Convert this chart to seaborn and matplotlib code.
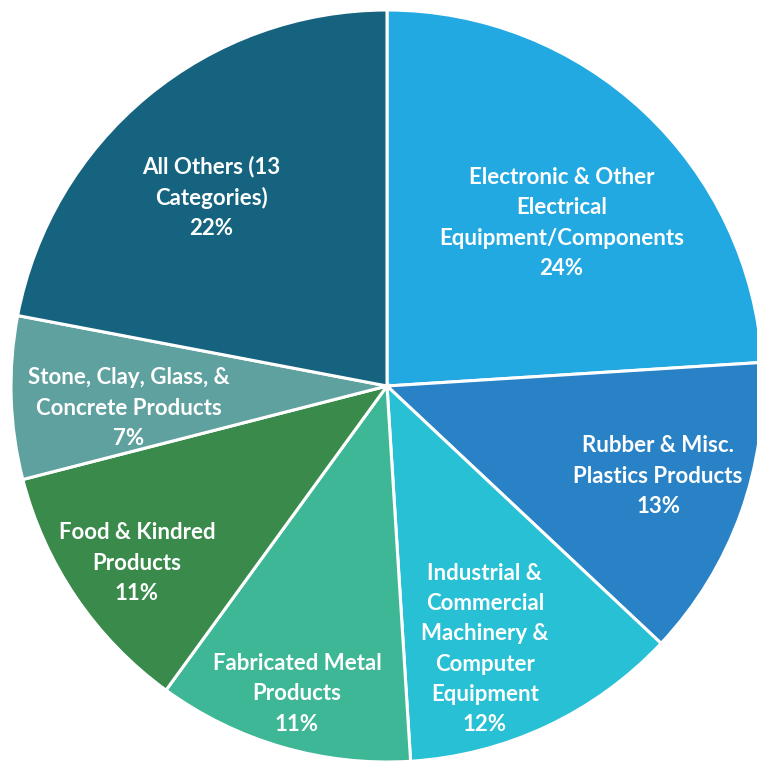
import numpy as np
import matplotlib
matplotlib.use("Agg")
import matplotlib.pyplot as plt
import seaborn as sns

# Share of categories (percent), clockwise from 12 o'clock
categories = [
    "Electronic & Other\nElectrical\nEquipment/Components",
    "Rubber & Misc.\nPlastics Products",
    "Industrial &\nCommercial\nMachinery &\nComputer\nEquipment",
    "Fabricated Metal\nProducts",
    "Food & Kindred\nProducts",
    "Stone, Clay, Glass, &\nConcrete Products",
    "All Others (13\nCategories)",
]
shares = [24, 13, 12, 11, 11, 7, 22]
colors = ["#22A9E1", "#2A82C6", "#27C0D5", "#3DB795", "#3A8A4C", "#5FA19E", "#15637F"]
# label placement: fraction of radius, and angle nudge from the wedge middle (deg)
label_dist = [0.635, 0.76, 0.746, 0.853, 0.815, 0.69, 0.686]
label_turn = [-3.8, 1.4, -4.8, -0.1, 1.1, 3.1, 3.4]

sns.set_theme(style="white")
plt.rcParams['font.family'] = ['Lato', 'DejaVu Sans']

W, H = 757, 761
fig = plt.figure(figsize=(W / 100, H / 100), dpi=100)
ax = fig.add_axes([0, 0, 1, 1])

cx, cy, R = 387, H - 386, 376
wedges, _ = ax.pie(shares, colors=sns.color_palette(colors), startangle=90,
                   counterclock=False, center=(cx, cy), radius=R,
                   wedgeprops=dict(edgecolor="white", linewidth=2.2),
                   frame=True)

for w, lab, val, d, t in zip(wedges, categories, shares, label_dist, label_turn):
    mid = np.deg2rad((w.theta1 + w.theta2) / 2 + t)
    x = cx + d * R * np.cos(mid)
    y = cy + d * R * np.sin(mid)
    ax.text(x, y, f"{lab}\n{val}%", ha="center", va="center", color="white",
            fontsize=16, fontweight="bold", linespacing=1.55)

ax.set_xlim(0, W)
ax.set_ylim(0, H)
ax.set_aspect("equal")
ax.axis("off")

fig.savefig("out.png", dpi=100, facecolor="white")
